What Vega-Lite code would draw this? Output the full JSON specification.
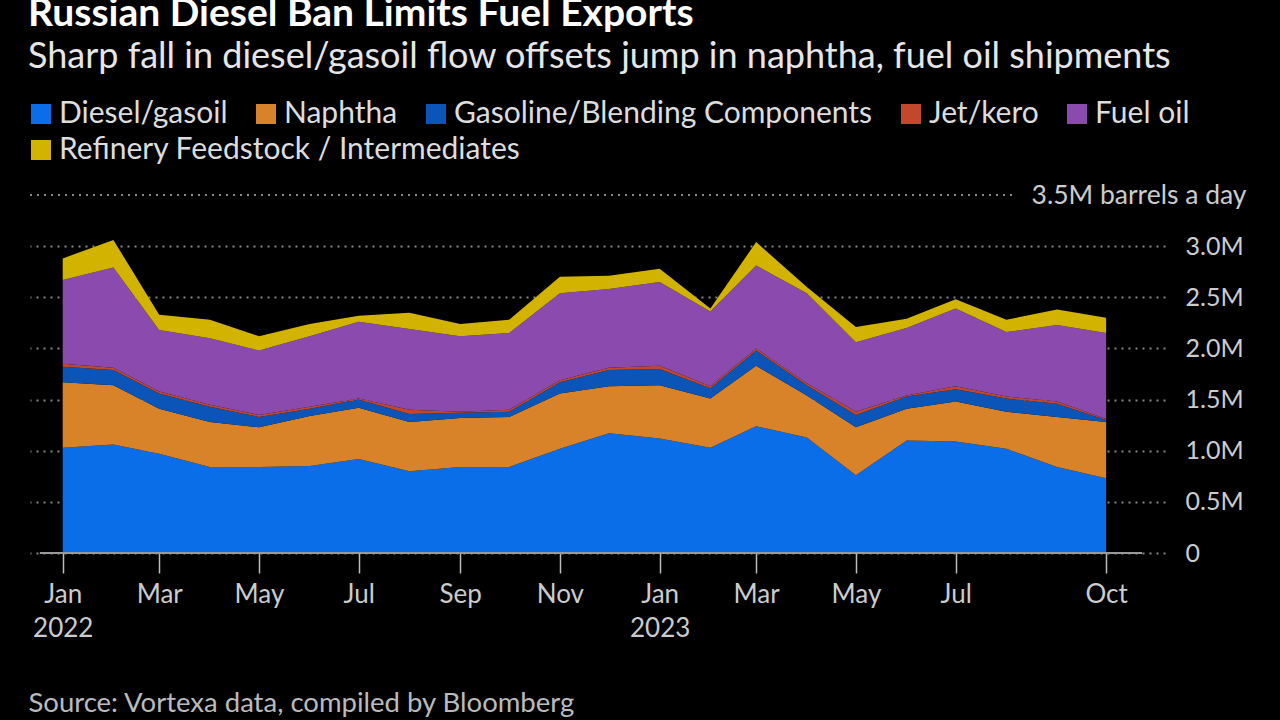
{
  "$schema": "https://vega.github.io/schema/vega-lite/v6.json",
  "width": 1135,
  "height": 358,
  "autosize": {"type": "none"},
  "padding": {"left": 30, "top": 195, "right": 115, "bottom": 167},
  "background": "#000000",
  "config": {"view": {"stroke": null}, "font": "Lato"},
  "title": {
    "text": "Russian Diesel Ban Limits Fuel Exports",
    "subtitle": "Sharp fall in diesel/gasoil flow offsets jump in naphtha, fuel oil shipments",
    "anchor": "start",
    "frame": "group",
    "font": "Lato",
    "fontSize": 39,
    "fontWeight": "bold",
    "color": "#ffffff",
    "subtitleFont": "Lato",
    "subtitleFontSize": 36,
    "subtitleColor": "#e6e6e6",
    "subtitlePadding": 6,
    "dx": -2,
    "offset": 24
  },
  "data": {
    "values": [
      {"month": "2022-01-01", "diesel": 1.03, "naphtha": 0.64, "gasoline": 0.15, "jet": 0.03, "fuel": 0.82, "feed": 0.21},
      {"month": "2022-02-01", "diesel": 1.06, "naphtha": 0.58, "gasoline": 0.15, "jet": 0.02, "fuel": 0.98, "feed": 0.27},
      {"month": "2022-03-01", "diesel": 0.97, "naphtha": 0.44, "gasoline": 0.15, "jet": 0.02, "fuel": 0.60, "feed": 0.15},
      {"month": "2022-04-01", "diesel": 0.84, "naphtha": 0.44, "gasoline": 0.15, "jet": 0.02, "fuel": 0.65, "feed": 0.18},
      {"month": "2022-05-01", "diesel": 0.84, "naphtha": 0.39, "gasoline": 0.10, "jet": 0.02, "fuel": 0.63, "feed": 0.14},
      {"month": "2022-06-01", "diesel": 0.85, "naphtha": 0.49, "gasoline": 0.07, "jet": 0.02, "fuel": 0.69, "feed": 0.12},
      {"month": "2022-07-01", "diesel": 0.92, "naphtha": 0.50, "gasoline": 0.08, "jet": 0.01, "fuel": 0.75, "feed": 0.06},
      {"month": "2022-08-01", "diesel": 0.80, "naphtha": 0.48, "gasoline": 0.08, "jet": 0.04, "fuel": 0.79, "feed": 0.16},
      {"month": "2022-09-01", "diesel": 0.84, "naphtha": 0.48, "gasoline": 0.05, "jet": 0.01, "fuel": 0.74, "feed": 0.12},
      {"month": "2022-10-01", "diesel": 0.84, "naphtha": 0.49, "gasoline": 0.05, "jet": 0.02, "fuel": 0.75, "feed": 0.13},
      {"month": "2022-11-01", "diesel": 1.02, "naphtha": 0.54, "gasoline": 0.11, "jet": 0.02, "fuel": 0.85, "feed": 0.16},
      {"month": "2022-12-01", "diesel": 1.17, "naphtha": 0.46, "gasoline": 0.16, "jet": 0.02, "fuel": 0.77, "feed": 0.13},
      {"month": "2023-01-01", "diesel": 1.12, "naphtha": 0.52, "gasoline": 0.16, "jet": 0.03, "fuel": 0.82, "feed": 0.13},
      {"month": "2023-02-01", "diesel": 1.03, "naphtha": 0.48, "gasoline": 0.10, "jet": 0.02, "fuel": 0.73, "feed": 0.03},
      {"month": "2023-03-01", "diesel": 1.24, "naphtha": 0.59, "gasoline": 0.15, "jet": 0.02, "fuel": 0.81, "feed": 0.23},
      {"month": "2023-04-01", "diesel": 1.13, "naphtha": 0.41, "gasoline": 0.10, "jet": 0.02, "fuel": 0.88, "feed": 0.06},
      {"month": "2023-05-01", "diesel": 0.76, "naphtha": 0.47, "gasoline": 0.12, "jet": 0.03, "fuel": 0.68, "feed": 0.15},
      {"month": "2023-06-01", "diesel": 1.10, "naphtha": 0.31, "gasoline": 0.12, "jet": 0.01, "fuel": 0.66, "feed": 0.09},
      {"month": "2023-07-01", "diesel": 1.09, "naphtha": 0.39, "gasoline": 0.12, "jet": 0.03, "fuel": 0.76, "feed": 0.09},
      {"month": "2023-08-01", "diesel": 1.02, "naphtha": 0.36, "gasoline": 0.13, "jet": 0.02, "fuel": 0.63, "feed": 0.12},
      {"month": "2023-09-01", "diesel": 0.84, "naphtha": 0.49, "gasoline": 0.13, "jet": 0.02, "fuel": 0.75, "feed": 0.15},
      {"month": "2023-10-01", "diesel": 0.73, "naphtha": 0.55, "gasoline": 0.02, "jet": 0.01, "fuel": 0.84, "feed": 0.15}
    ]
  },
  "layer": [
    {
      "transform": [
        {"fold": ["diesel", "naphtha", "gasoline", "jet", "fuel", "feed"], "as": ["product", "value"]},
        {"calculate": "indexof(['diesel','naphtha','gasoline','jet','fuel','feed'], datum.product)", "as": "rank"}
      ],
      "mark": {"type": "area", "interpolate": "linear", "opacity": 1},
      "encoding": {
        "x": {
          "field": "month",
          "type": "temporal",
          "scale": {"type": "utc", "domain": [{"year": 2021, "month": 12, "date": 12, "utc": true}, {"year": 2023, "month": 11, "date": 6, "utc": true}]},
          "axis": {
            "values": [
              {"year": 2022, "month": 1, "date": 1, "utc": true},
              {"year": 2022, "month": 3, "date": 1, "utc": true},
              {"year": 2022, "month": 5, "date": 1, "utc": true},
              {"year": 2022, "month": 7, "date": 1, "utc": true},
              {"year": 2022, "month": 9, "date": 1, "utc": true},
              {"year": 2022, "month": 11, "date": 1, "utc": true},
              {"year": 2023, "month": 1, "date": 1, "utc": true},
              {"year": 2023, "month": 3, "date": 1, "utc": true},
              {"year": 2023, "month": 5, "date": 1, "utc": true},
              {"year": 2023, "month": 7, "date": 1, "utc": true},
              {"year": 2023, "month": 10, "date": 1, "utc": true}
            ],
            "labelExpr": "utcFormat(datum.value, '%m') == '01' ? [utcFormat(datum.value, '%b'), utcFormat(datum.value, '%Y')] : utcFormat(datum.value, '%b')",
            "grid": false,
            "domain": false,
            "ticks": true,
            "tickSize": 20,
            "tickColor": "#bbbbbb",
            "tickWidth": 1.5,
            "labelPadding": 8,
            "labelFont": "Lato",
            "labelFontSize": 26,
            "labelColor": "#cccccc",
            "labelLineHeight": 34,
            "labelBaseline": "top",
            "labelOverlap": false,
            "labelFlush": false,
            "title": "Source: Vortexa data, compiled by Bloomberg",
            "titleFont": "Lato",
            "titleFontSize": 27.5,
            "titleFontWeight": "normal",
            "titleColor": "#bbbbbb",
            "titleAnchor": "start",
            "titleAlign": "left",
            "titleBaseline": "middle",
            "titleX": -2,
            "titleY": 150
          }
        },
        "y": {
          "field": "value",
          "type": "quantitative",
          "stack": "zero",
          "scale": {"domain": [0, 3.5], "nice": false},
          "axis": {
            "orient": "right",
            "values": [0, 0.5, 1, 1.5, 2, 2.5, 3, 3.5],
            "labelExpr": "datum.value == 0 ? '0' : datum.value == 3.5 ? '3.5M barrels a day' : format(datum.value, '.1f') + 'M'",
            "grid": true,
            "gridDash": [2, 5],
            "gridColor": "#888888",
            "gridWidth": 2,
            "gridOpacity": {"condition": {"test": "datum.value == 3.5", "value": 0}, "value": 1},
            "domain": false,
            "ticks": false,
            "tickSize": 0,
            "labelAlign": {"condition": {"test": "datum.value == 3.5", "value": "right"}, "value": "left"},
            "labelPadding": {"condition": {"test": "datum.value == 3.5", "value": 81}, "value": 20},
            "labelBaseline": "middle",
            "labelFont": "Lato",
            "labelFontSize": {"condition": {"test": "datum.value == 3.5", "value": 26.5}, "value": 25},
            "labelColor": "#cccccc",
            "labelLimit": 400,
            "title": null
          }
        },
        "color": {
          "field": "product",
          "type": "nominal",
          "scale": {
            "domain": ["diesel", "naphtha", "gasoline", "jet", "fuel", "feed"],
            "range": ["#0a6ee8", "#d8822a", "#0b55b8", "#c4472b", "#8a4aae", "#d2b400"]
          },
          "legend": null
        },
        "order": {"field": "rank", "type": "quantitative", "sort": "ascending"}
      }
    },
    {
      "data": {"values": [
        {"name": "Diesel/gasoil"},
        {"name": "Naphtha"},
        {"name": "Gasoline/Blending Components"},
        {"name": "Jet/kero"},
        {"name": "Fuel oil"}
      ]},
      "mark": {"type": "point", "filled": true, "size": 0},
      "encoding": {
        "fill": {
          "field": "name",
          "type": "nominal",
          "scale": {
            "domain": ["Diesel/gasoil", "Naphtha", "Gasoline/Blending Components", "Jet/kero", "Fuel oil"],
            "range": ["#0a6ee8", "#d8822a", "#0b55b8", "#c4472b", "#8a4aae"]
          },
          "legend": {
            "orient": "none",
            "legendX": -4,
            "legendY": -96,
            "direction": "horizontal",
            "title": null,
            "symbolType": "square",
            "symbolSize": 400,
            "symbolStrokeWidth": 0,
            "symbolOpacity": 1,
            "labelFont": "Lato",
            "labelFontSize": 30,
            "labelColor": "#dddddd",
            "labelOffset": 3,
            "columnPadding": 23,
            "labelLimit": 700
          }
        }
      }
    },
    {
      "data": {"values": [{"name": "Refinery Feedstock / Intermediates"}]},
      "mark": {"type": "point", "filled": true, "size": 0, "color": "#d2b400"},
      "encoding": {
        "shape": {
          "field": "name",
          "type": "nominal",
          "scale": {"range": ["square"]},
          "legend": {
            "orient": "none",
            "legendX": -4,
            "legendY": -60,
            "direction": "horizontal",
            "title": null,
            "symbolType": "square",
            "symbolSize": 400,
            "symbolStrokeWidth": 0,
            "symbolOpacity": 1,
            "symbolFillColor": "#d2b400",
            "labelFont": "Lato",
            "labelFontSize": 30,
            "labelColor": "#dddddd",
            "labelOffset": 3,
            "labelLimit": 700
          }
        }
      }
    },
    {
      "data": {"values": [{}]},
      "mark": {"type": "rule", "strokeDash": [2, 5], "color": "#888888", "strokeWidth": 2},
      "encoding": {
        "y": {"datum": 3.5, "type": "quantitative"},
        "x": {"datum": {"year": 2021, "month": 12, "date": 12, "utc": true}, "type": "temporal"},
        "x2": {"datum": {"year": 2023, "month": 8, "date": 6, "utc": true}}
      }
    },
    {
      "data": {"values": [{}]},
      "mark": {"type": "rule", "color": "#9a9a9a", "strokeWidth": 2},
      "encoding": {
        "y": {"datum": 0, "type": "quantitative"},
        "x": {"datum": {"year": 2021, "month": 12, "date": 18, "utc": true}, "type": "temporal"},
        "x2": {"datum": {"year": 2023, "month": 10, "date": 23, "utc": true}}
      }
    }
  ]
}
